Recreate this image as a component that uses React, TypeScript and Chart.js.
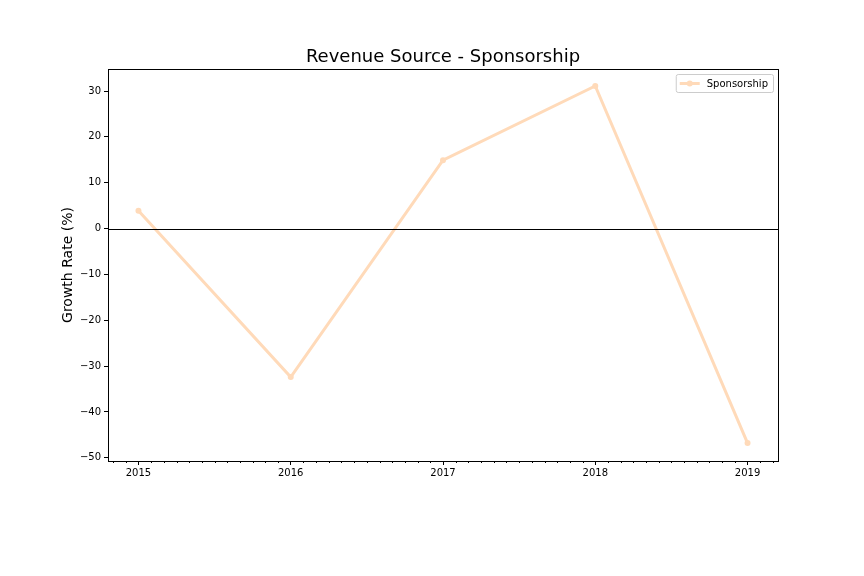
import React, { useEffect, useRef } from "react";
import Chart from "chart.js/auto";

const years = [2015, 2016, 2017, 2018, 2019];
const growth = [3.9, -32.4, 14.9, 31.1, -46.8];
const yTicks = [-50, -40, -30, -20, -10, 0, 10, 20, 30];
const title = "Revenue Source - Sponsorship";
const yLabel = "Growth Rate (%)";
const seriesName = "Sponsorship";
const lineColor = "#ffdab9";

const extras = {
  id: "extras",
  afterDraw(chart: any) {
    const { ctx, chartArea: a, scales } = chart;
    const x = scales.x;
    const y = scales.y;
    ctx.save();
    // zero line
    ctx.strokeStyle = "#000";
    ctx.lineWidth = 1;
    const y0 = Math.round(y.getPixelForValue(0)) + 0.5;
    ctx.beginPath();
    ctx.moveTo(a.left, y0);
    ctx.lineTo(a.right, y0);
    ctx.stroke();
    // box
    ctx.strokeRect(a.left + 0.5, a.top + 0.5, a.right - a.left, a.bottom - a.top);
    // minor ticks
    for (let m = Math.ceil(x.min * 12); m <= x.max * 12; m++) {
      if (m % 12 === 0) continue;
      const px = Math.round(x.getPixelForValue(m / 12)) + 0.5;
      ctx.beginPath();
      ctx.moveTo(px, a.bottom);
      ctx.lineTo(px, a.bottom + 2);
      ctx.stroke();
    }
    // title
    ctx.fillStyle = "#000";
    ctx.font = "18px 'DejaVu Sans'";
    ctx.textAlign = "center";
    ctx.textBaseline = "bottom";
    ctx.fillText(title, (a.left + a.right) / 2, a.top - 3);
    // y label
    ctx.save();
    ctx.translate(68, (a.top + a.bottom) / 2);
    ctx.rotate(-Math.PI / 2);
    ctx.font = "14px 'DejaVu Sans'";
    ctx.textBaseline = "middle";
    ctx.fillText(yLabel, 0, 0);
    ctx.restore();
    // legend
    ctx.font = "10px 'DejaVu Sans'";
    const tw = ctx.measureText(seriesName).width;
    const w = tw + 36;
    const bx = a.right - 5 - w;
    const by = a.top + 5;
    ctx.strokeStyle = "#ccc";
    ctx.fillStyle = "#fff";
    ctx.beginPath();
    ctx.roundRect(bx + 0.5, by + 0.5, w, 18, 2);
    ctx.fill();
    ctx.stroke();
    ctx.strokeStyle = lineColor;
    ctx.lineWidth = 3;
    ctx.beginPath();
    ctx.moveTo(bx + 4, by + 9.5);
    ctx.lineTo(bx + 24, by + 9.5);
    ctx.stroke();
    ctx.fillStyle = lineColor;
    ctx.beginPath();
    ctx.arc(bx + 14, by + 9.5, 3, 0, Math.PI * 2);
    ctx.fill();
    ctx.fillStyle = "#000";
    ctx.textAlign = "left";
    ctx.textBaseline = "middle";
    ctx.fillText(seriesName, bx + 31, by + 10);
    ctx.restore();
  },
};

export default function App() {
  const canvasRef = useRef<HTMLCanvasElement | null>(null);

  useEffect(() => {
    if (!canvasRef.current) return;
    const chart = new Chart(canvasRef.current, {
      type: "line",
      data: {
        datasets: [
          {
            label: seriesName,
            data: years.map((yr, i) => ({ x: yr, y: growth[i] })),
            borderColor: lineColor,
            backgroundColor: lineColor,
            borderWidth: 3,
            pointRadius: 3,
            pointBorderWidth: 0,
            pointHoverRadius: 3,
            tension: 0,
          },
        ],
      },
      options: {
        responsive: false,
        animation: false,
        layout: { padding: { top: 69, right: 86, left: 0, bottom: 0 } },
        plugins: { legend: { display: false }, tooltip: { enabled: false } },
        scales: {
          x: {
            type: "linear",
            min: 2014.8,
            max: 2019.2,
            afterBuildTicks: (s: any) => {
              s.ticks = years.map((v) => ({ value: v }));
            },
            afterFit: (s: any) => {
              s.height = 115;
            },
            grid: { drawOnChartArea: false, tickLength: 4, color: "#000" },
            border: { color: "#000" },
            ticks: {
              color: "#000",
              font: { family: "DejaVu Sans", size: 10 },
              maxRotation: 0,
              padding: 2,
              callback: (v: any) => String(v),
            },
          },
          y: {
            min: -50.7,
            max: 34.8,
            afterBuildTicks: (s: any) => {
              s.ticks = yTicks.map((v) => ({ value: v }));
            },
            afterFit: (s: any) => {
              s.width = 108;
            },
            grid: { drawOnChartArea: false, tickLength: 4, color: "#000" },
            border: { color: "#000" },
            ticks: {
              color: "#000",
              font: { family: "DejaVu Sans", size: 10 },
              padding: 3,
              callback: (v: any) => String(v).replace("-", "\u2212"),
            },
          },
        },
      },
      plugins: [extras],
    });
    return () => chart.destroy();
  }, []);

  return (
    <div style={{ position: "fixed", left: 0, top: 0, width: 864, height: 576, background: "#fff" }}>
      <canvas ref={canvasRef} width={864} height={576} />
    </div>
  );
}
